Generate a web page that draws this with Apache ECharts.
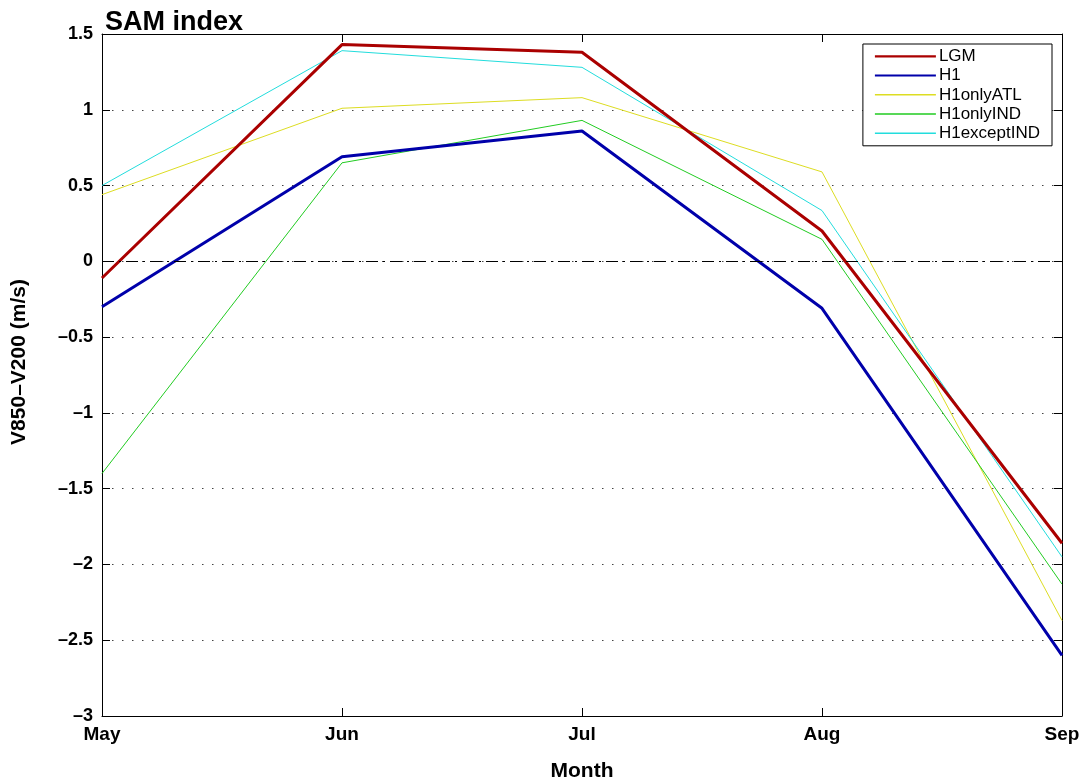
<!DOCTYPE html>
<html>
<head>
<meta charset="utf-8">
<script src="https://cdn.jsdelivr.net/npm/echarts@6/dist/echarts.min.js"></script>
<style>html,body{margin:0;padding:0;background:#fff}#c{width:1086px;height:782px}</style>
</head>
<body>
<div id="c"></div>
<script>
var months = ['May', 'Jun', 'Jul', 'Aug', 'Sep'];
var LGM = [-0.11, 1.43, 1.38, 0.20, -1.86];
var H1 = [-0.30, 0.69, 0.86, -0.31, -2.60];
var H1onlyATL = [0.44, 1.01, 1.08, 0.59, -2.37];
var H1onlyIND = [-1.40, 0.65, 0.93, 0.145, -2.13];
var H1exceptIND = [0.50, 1.39, 1.28, 0.335, -1.95];
var yTicks = [-3, -2.5, -2, -1.5, -1, -0.5, 0, 0.5, 1, 1.5];

var FONT = 'Liberation Sans, Arial, Helvetica, sans-serif';
var chart = echarts.init(document.getElementById('c'));

// legend line icons: transparent-extent box with a centred bar
var ICON_THICK = 'path://M0,0h0.01v0.01h-0.01z M0,5h100v3.5h-100z M99.99,13.99h0.01v0.01h-0.01z';
var ICON_THIN = 'path://M0,0h0.01v0.01h-0.01z M0,5.5h100v2.5h-100z M99.99,13.99h0.01v0.01h-0.01z';

function mk(name, data, color, width, extra) {
  var s = {
    name: name, type: 'line', data: data, symbol: 'none', showSymbol: false,
    xAxisIndex: 0, yAxisIndex: 0,
    lineStyle: { color: color, width: width }, itemStyle: { color: color },
    emphasis: { disabled: true }, animation: false, z: 3
  };
  if (extra) for (var k in extra) s[k] = extra[k];
  return s;
}

chart.setOption({
  animation: false,
  backgroundColor: '#fff',
  title: {
    text: 'SAM index', left: 100, top: 4,
    textStyle: { fontFamily: FONT, fontSize: 27, fontWeight: 'bold', color: '#000' }
  },
  grid: { left: 102, right: 24, top: 34, bottom: 66, containLabel: false, outerBoundsMode: 'none' },
  legend: {
    orient: 'vertical', right: 34, top: 44, padding: [4, 12, 4, 12],
    backgroundColor: '#fff', borderColor: '#000', borderWidth: 1,
    itemWidth: 61, itemHeight: 14, itemGap: 2.2,
    textStyle: { fontFamily: FONT, fontSize: 17, lineHeight: 17, color: '#000', padding: [0, 0, 0, -2] },
    data: [
      { name: 'LGM', icon: ICON_THICK },
      { name: 'H1', icon: ICON_THICK },
      { name: 'H1onlyATL', icon: ICON_THIN },
      { name: 'H1onlyIND', icon: ICON_THIN },
      { name: 'H1exceptIND', icon: ICON_THIN }
    ]
  },
  xAxis: [{
    type: 'category', data: months, boundaryGap: false,
    name: 'Month', nameLocation: 'middle', nameGap: 45,
    nameTextStyle: { fontFamily: FONT, fontSize: 21, fontWeight: 'bold', color: '#000' },
    axisLine: { onZero: false, lineStyle: { color: '#000', width: 1 } },
    axisTick: { inside: true, length: 8, lineStyle: { color: '#000' } },
    axisLabel: { fontFamily: FONT, fontSize: 19, fontWeight: 'bold', color: '#000', margin: 9 },
    splitLine: { show: false }
  }, {
    type: 'category', data: months, boundaryGap: false, position: 'top',
    axisLine: { onZero: false, lineStyle: { color: '#000', width: 1 } },
    axisTick: { inside: true, length: 8, lineStyle: { color: '#000' } },
    axisLabel: { show: false }, splitLine: { show: false }
  }],
  yAxis: [{
    type: 'value', min: -3, max: 1.5, interval: 0.5,
    name: 'V850\u2013V200 (m/s)', nameLocation: 'middle', nameGap: 72,
    nameTextStyle: { fontFamily: FONT, fontSize: 21, fontWeight: 'bold', color: '#000', padding: [0, 0, 0, 26] },
    axisLine: { show: true, onZero: false, lineStyle: { color: '#000', width: 1 } },
    axisTick: { show: true, inside: true, length: 8, lineStyle: { color: '#000' } },
    axisLabel: {
      fontFamily: FONT, fontSize: 18, fontWeight: 'bold', color: '#000', margin: 9,
      verticalAlignMinLabel: 'middle', verticalAlignMaxLabel: 'middle',
      formatter: function (v) {
        var i = yTicks.indexOf(v);
        var t = String(i >= 0 ? yTicks[i] : v);
        return t.replace('-', '\u2013');
      }
    },
    splitLine: { show: true, lineStyle: { color: '#444', width: 1, type: [1.5, 8.5] } }
  }, {
    type: 'value', min: -3, max: 1.5, interval: 0.5, position: 'right',
    axisLine: { show: true, onZero: false, lineStyle: { color: '#000', width: 1 } },
    axisTick: { show: true, inside: true, length: 8, lineStyle: { color: '#000' } },
    axisLabel: { show: false }, splitLine: { show: false }
  }],
  series: [
    mk('H1onlyATL', H1onlyATL, '#dddd22', 1),
    mk('H1onlyIND', H1onlyIND, '#22cc22', 1),
    mk('H1exceptIND', H1exceptIND, '#22dddd', 1),
    mk('LGM', LGM, '#aa0000', 3, { z: 4 }),
    mk('H1', H1, '#0000aa', 3, {
      z: 4,
      markLine: {
        silent: true, symbol: 'none', animation: false,
        label: { show: false },
        lineStyle: { color: '#000', width: 1, type: [12, 5, 2, 5] },
        data: [{ yAxis: 0 }]
      }
    })
  ]
});
</script>
</body>
</html>
